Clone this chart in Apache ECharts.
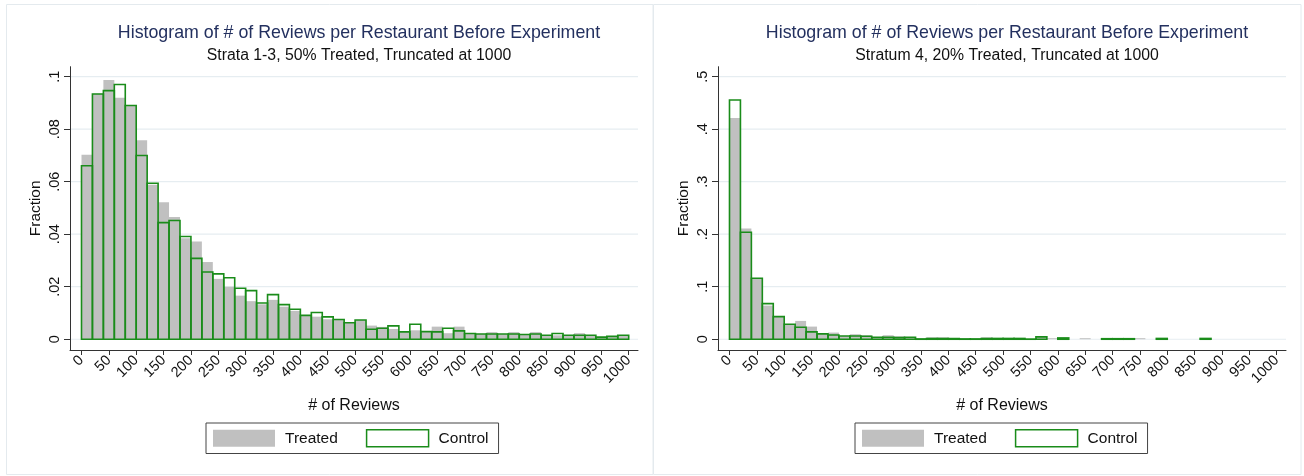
<!DOCTYPE html>
<html>
<head>
<meta charset="utf-8">
<script src="https://cdn.jsdelivr.net/npm/echarts@6.0.0/dist/echarts.min.js"></script>
<style>
  html, body { margin: 0; padding: 0; background: #fff; }
  #chart { width: 1304px; height: 476px; }
</style>
</head>
<body>
<div id="chart"></div>
<script>
// ---- data ----
const binWidth = 20;
const xTicks = [0, 50, 100, 150, 200, 250, 300, 350, 400, 450, 500, 550, 600, 650, 700, 750, 800, 850, 900, 950, 1000];
const yTicksLeft = [0, 0.02, 0.04, 0.06, 0.08, 0.1];
const yTicksRight = [0, 0.1, 0.2, 0.3, 0.4, 0.5];

const titleText = 'Histogram of # of Reviews per Restaurant Before Experiment';
const subLeft = 'Strata 1-3, 50% Treated, Truncated at 1000';
const subRight = 'Stratum 4, 20% Treated, Truncated at 1000';

// Strata 1-3 (fraction per 20-review bin)
const leftTreated = [
  0.0703, 0.0935, 0.0987, 0.0920, 0.0888, 0.0758, 0.0588, 0.0522, 0.0466, 0.0385,
  0.0372, 0.0294, 0.0230, 0.0200, 0.0166, 0.0145, 0.0133, 0.0150, 0.0124, 0.0108,
  0.0091, 0.0086, 0.0076, 0.0075, 0.0063, 0.0073, 0.0052, 0.0047, 0.0039, 0.0028,
  0.0034, 0.0029, 0.0048, 0.0023, 0.0048, 0.0022, 0.0020, 0.0027, 0.0020, 0.0027,
  0.0018, 0.0027, 0.0015, 0.0015, 0.0015, 0.0023, 0.0015, 0.0008, 0.0011, 0.0015
];
const leftControl = [
  0.0661, 0.0934, 0.0947, 0.0970, 0.0890, 0.0700, 0.0594, 0.0444, 0.0452, 0.0391,
  0.0308, 0.0256, 0.0249, 0.0234, 0.0194, 0.0185, 0.0138, 0.0170, 0.0132, 0.0114,
  0.0091, 0.0102, 0.0085, 0.0075, 0.0063, 0.0073, 0.0038, 0.0042, 0.0051, 0.0028,
  0.0057, 0.0029, 0.0028, 0.0042, 0.0032, 0.0022, 0.0020, 0.0020, 0.0020, 0.0020,
  0.0018, 0.0020, 0.0015, 0.0022, 0.0015, 0.0015, 0.0015, 0.0008, 0.0011, 0.0015
];

// Stratum 4
const rightTreated = [
  0.4213, 0.2107, 0.1161, 0.0641, 0.0431, 0.0285, 0.0349, 0.0241, 0.0102, 0.0127,
  0.0063, 0.0095, 0.0076, 0.0038, 0.0076, 0.0057, 0.0038, 0.0006, 0.0038, 0.0038,
  0.0013, 0.0010, 0.0010, 0.0038, 0.0020, 0.0020, 0.0020, null, 0.0045, 0.0020,
  null, null, 0.0020, null, null, null, null, 0.0020, null, null,
  null, null, null, null, null, null, null, null, null, null
];
const rightControl = [
  0.4556, 0.2037, 0.1161, 0.0679, 0.0431, 0.0285, 0.0228, 0.0140, 0.0102, 0.0082,
  0.0063, 0.0063, 0.0057, 0.0038, 0.0038, 0.0032, 0.0038, 0.0006, 0.0013, 0.0013,
  0.0013, 0.0006, 0.0006, 0.0013, 0.0015, 0.0015, 0.0015, 0.0003, 0.0045, null,
  0.0025, null, null, null, 0.0010, 0.0010, 0.0010, null, null, 0.0015,
  null, null, null, 0.0015, null, null, null, null, null, null
];

// ---- styles ----
const FONT = 'Liberation Sans, Arial, Helvetica, sans-serif';
const GRAY = '#c0c0c0';
const GREEN = '#1a8c1a';
const NAVY = '#23305f';
const GRIDC = '#e6edf1';

function toBins(vals) {
  const out = [];
  vals.forEach((v, i) => { if (v !== null) out.push([i * binWidth, v]); });
  return out;
}

function barRender(fill, stroke, lw) {
  return function (params, api) {
    const x0 = api.value(0);
    const v = api.value(1);
    const p0 = api.coord([x0, v]);
    const p1 = api.coord([x0 + binWidth, 0]);
    return {
      type: 'rect',
      shape: { x: p0[0], y: p0[1], width: p1[0] - p0[0], height: p1[1] - p0[1] },
      style: { fill: fill, stroke: stroke, lineWidth: lw }
    };
  };
}

function gridRender(xMin, xMax) {
  return function (params, api) {
    const v = api.value(0);
    const a = api.coord([xMin, v]);
    const b = api.coord([xMax, v]);
    return {
      type: 'line',
      shape: { x1: a[0], y1: a[1], x2: b[0], y2: b[1] },
      style: { stroke: GRIDC, lineWidth: 1.2 }
    };
  };
}

const XMIN = -21, XMAX = 1017;
const panels = [
  { left: 70, yMin: -0.0041, yMax: 0.1038, yTicks: yTicksLeft, sub: subLeft, treated: leftTreated, control: leftControl, legendLeft: 206 },
  { left: 718, yMin: -0.0205, yMax: 0.519, yTicks: yTicksRight, sub: subRight, treated: rightTreated, control: rightControl, legendLeft: 855 }
];
const GW = 568, GTOP = 66.7, GH = 283.3;

const fmtY = v => (v === 0 ? '0' : String(+v.toFixed(3)).replace(/^0/, ''));
const fmtX = v => String(v);

const option = {
  animation: false,
  backgroundColor: '#ffffff',
  textStyle: { fontFamily: FONT },
  title: panels.map(p => ({
    text: titleText,
    subtext: p.sub,
    left: p.left + GW / 2,
    textAlign: 'center',
    top: 19,
    itemGap: 6,
    textStyle: { fontFamily: FONT, fontSize: 17.8, fontWeight: 'normal', color: NAVY },
    subtextStyle: { fontFamily: FONT, fontSize: 15.8, color: '#111' }
  })),
  legend: panels.map((p, i) => ({
    left: p.legendLeft,
    top: 423,
    orient: 'horizontal',
    padding: [6, 10, 6, 7],
    itemWidth: 62,
    itemHeight: 17,
    itemGap: 28,
    borderColor: '#444',
    borderWidth: 1,
    backgroundColor: '#fff',
    selectedMode: false,
    textStyle: { fontFamily: FONT, fontSize: 15.5, color: '#111', padding: [0, 0, 0, 5] },
    data: [
      { name: 'Treated', icon: 'rect', itemStyle: { color: GRAY, borderWidth: 0 } },
      { name: 'Control', icon: 'rect', itemStyle: { color: '#ffffff', borderColor: GREEN, borderWidth: 1.5 } }
    ]
  })),
  grid: panels.map(p => ({ left: p.left, top: GTOP, width: GW, height: GH })),
  xAxis: panels.map((p, i) => ({
    type: 'value',
    gridIndex: i,
    min: XMIN,
    max: XMAX,
    name: '# of Reviews',
    nameLocation: 'middle',
    nameGap: 48,
    nameTextStyle: { fontFamily: FONT, fontSize: 16, color: '#111' },
    axisLine: { show: true, onZero: false, lineStyle: { color: '#333', width: 1 } },
    axisTick: { show: true, length: 5, lineStyle: { color: '#333' }, customValues: xTicks },
    axisLabel: { rotate: 45, fontSize: 14.5, color: '#111', margin: 8, customValues: xTicks, formatter: fmtX, fontFamily: FONT },
    splitLine: { show: false }
  })),
  yAxis: panels.map((p, i) => ({
    type: 'value',
    gridIndex: i,
    min: p.yMin,
    max: p.yMax,
    name: 'Fraction',
    nameLocation: 'middle',
    nameRotate: 90,
    nameGap: 27,
    nameTextStyle: { fontFamily: FONT, fontSize: 15.4, color: '#111' },
    axisLine: { show: true, onZero: false, lineStyle: { color: '#333', width: 1 } },
    axisTick: { show: true, length: 6, lineStyle: { color: '#333' }, customValues: p.yTicks },
    axisLabel: { rotate: 90, fontSize: 14.5, color: '#111', margin: 8, customValues: p.yTicks, formatter: fmtY, fontFamily: FONT },
    splitLine: { show: false }
  })),
  graphic: [
    { type: 'rect', shape: { x: 6.5, y: 4.5, width: 646.5, height: 470 }, style: { fill: 'none', stroke: '#e4eaee', lineWidth: 1 }, z: -10 },
    { type: 'rect', shape: { x: 653.5, y: 4.5, width: 647.5, height: 470 }, style: { fill: 'none', stroke: '#e4eaee', lineWidth: 1 }, z: -10 }
  ],
  series: []
};

panels.forEach((p, i) => {
  option.series.push({
    type: 'custom',
    name: 'grid' + i,
    xAxisIndex: i, yAxisIndex: i,
    silent: true,
    z: 0,
    renderItem: gridRender(XMIN, XMAX),
    data: p.yTicks.map(v => [v]),
    encode: { y: 0 }
  });
  option.series.push({
    type: 'custom',
    name: 'Treated',
    xAxisIndex: i, yAxisIndex: i,
    z: 2,
    itemStyle: { color: GRAY },
    renderItem: barRender(GRAY, null, 0),
    data: toBins(p.treated),
    encode: { x: 0, y: 1 }
  });
  option.series.push({
    type: 'custom',
    name: 'Control',
    xAxisIndex: i, yAxisIndex: i,
    z: 3,
    itemStyle: { color: '#fff', borderColor: GREEN, borderWidth: 1.5 },
    renderItem: barRender(null, GREEN, 1.6),
    data: toBins(p.control),
    encode: { x: 0, y: 1 }
  });
});

const chart = echarts.init(document.getElementById('chart'), null, { renderer: 'canvas' });
chart.setOption(option);
</script>
</body>
</html>
